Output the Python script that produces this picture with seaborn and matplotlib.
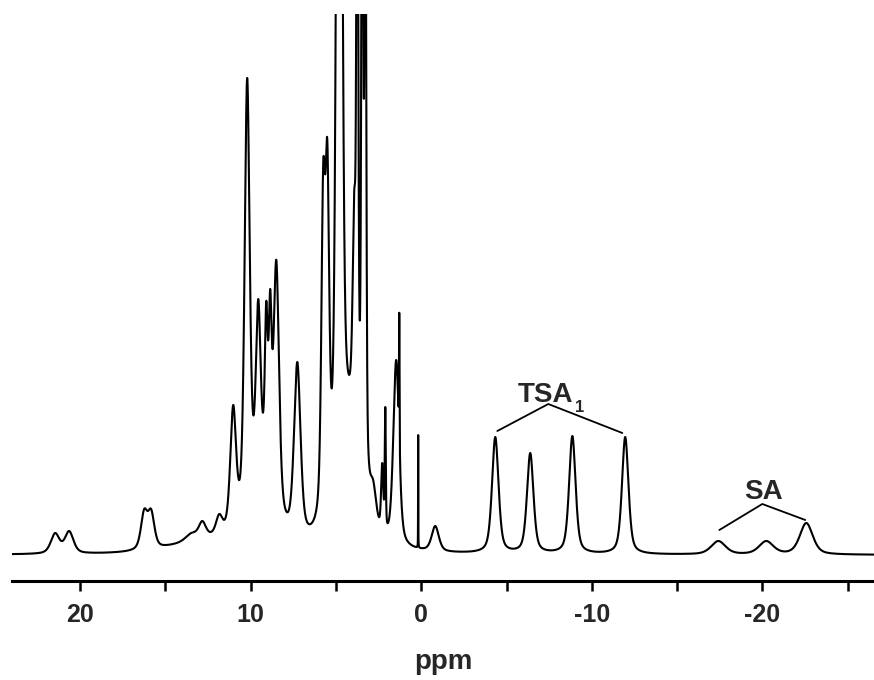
import numpy as np
import pandas as pd
import seaborn as sns
import matplotlib
matplotlib.use("Agg")
import matplotlib.pyplot as plt

# ---- data ----
# resolved peaks: position (ppm), apex height above baseline (arb. units), line width (ppm)
peak_ppm = [21.47, 20.65, 16.25, 15.84, 13.49, 12.84, 11.85, 11.03, 10.21, 9.56,
            9.09, 8.86, 8.50, 7.27, 5.75, 5.51, 4.81, 3.93, 3.75,
            3.46, 3.28, 2.82, 2.29, 2.11, 1.47, 1.29, 0.18, -0.82,
            -4.34, -6.39, -8.86, -11.96, -17.42, -20.23, -22.58]
peak_height = [22, 24, 46, 46, 22, 34, 41, 150, 477, 256,
               254, 266, 295, 193, 392, 415, 1500, 365, 900,
               900, 800, 75, 92, 148, 195, 242, 120, 29,
               118, 102, 119, 118, 14, 14, 32]
peak_width = [0.6, 0.6, 0.45, 0.45, 0.8, 0.5, 0.45, 0.4, 0.35, 0.33,
              0.2, 0.2, 0.38, 0.45, 0.26, 0.26, 0.32, 0.22, 0.12,
              0.12, 0.12, 0.45, 0.15, 0.07, 0.4, 0.035, 0.015, 0.5,
              0.45, 0.45, 0.45, 0.45, 1.0, 1.0, 0.9]
# broad underlying humps
hump_ppm = [12.5, 9.3, 4.1]
hump_height = [12, 60, 105]
hump_width = [5.0, 1.6, 1.4]

tick_values = [20, 10, 0, -10, -20]
LORENTZ_FRACTION = 0.5


def line_shape(x, p, w):
    u = (x - p) / (w / 2.0)
    return LORENTZ_FRACTION / (1.0 + u ** 2) + (1 - LORENTZ_FRACTION) * np.exp(-np.log(2) * u ** 2)


# ---- line shape: pseudo-Voigt peaks whose summed apex heights match the read heights ----
P = np.array(peak_ppm)
W = np.array(peak_width)
H = np.array(peak_height, dtype=float)
hump_at_peaks = sum(h * line_shape(P, p, w) for p, w, h in zip(hump_ppm, hump_width, hump_height))
M = line_shape(P[:, None], P[None, :], W[None, :])
target = H - hump_at_peaks
active = np.ones(len(P), bool)
amp = np.zeros(len(P))
for _ in range(20):
    sol = np.linalg.solve(M[np.ix_(active, active)], target[active])
    amp[:] = 0
    amp[active] = sol
    if (sol >= 0).all():
        break
    idx = np.where(active)[0][sol < 0]
    active[idx] = False
    amp[~active] = 0

ppm = np.linspace(24.5, -27, 40000)
intensity = sum(h * line_shape(ppm, p, w) for p, w, h in zip(hump_ppm, hump_width, hump_height))
intensity = intensity + (amp[None, :] * line_shape(ppm[:, None], P[None, :], W[None, :])).sum(axis=1)
df = pd.DataFrame({"ppm": ppm, "intensity": intensity})

sns.set_theme(style="white")
plt.rcParams["font.family"] = ["Liberation Sans", "DejaVu Sans"]

fig = plt.figure(figsize=(8.74, 6.80), dpi=100)
ax = fig.add_axes([12 / 874, 99 / 680, 862 / 874, 567 / 680])
sns.lineplot(data=df, x="ppm", y="intensity", ax=ax, color="black",
             linewidth=1.5, estimator=None, sort=False)

ax.set_xlim(24.0, -26.55)
ax.set_ylim(-26, 541)

for s in ["left", "right", "top"]:
    ax.spines[s].set_visible(False)
ax.spines["bottom"].set_linewidth(2.2)
ax.spines["bottom"].set_color("black")
ax.set_yticks([])
ax.set_ylabel("")
tick_pos = np.arange(-25, 25, 5)
ax.set_xticks(tick_pos)
ax.set_xticklabels([str(v) if v in tick_values else "" for v in tick_pos])
ax.tick_params(axis="x", direction="out", length=7.5, width=1.8, color="black",
               bottom=True, labelsize=18, pad=8)
for lbl in ax.get_xticklabels():
    lbl.set_fontweight("bold")
ax.set_xlabel("ppm", fontsize=20, fontweight="bold", labelpad=16)

# ---- annotations ----
ax.plot([-4.46, -7.45, -11.79], [124, 151, 122], color="black", lw=1.3)
ax.text(-7.27, 153, "TSA", fontsize=20, fontweight="bold", ha="center", va="baseline")
ax.text(-9.3, 143, "1", fontsize=12, fontweight="bold", ha="center", va="baseline")
ax.plot([-17.48, -20.0, -22.52], [25, 51, 35], color="black", lw=1.3)
ax.text(-20.06, 56, "SA", fontsize=20, fontweight="bold", ha="center", va="baseline")

fig.savefig("out.png", dpi=100, facecolor="white")
